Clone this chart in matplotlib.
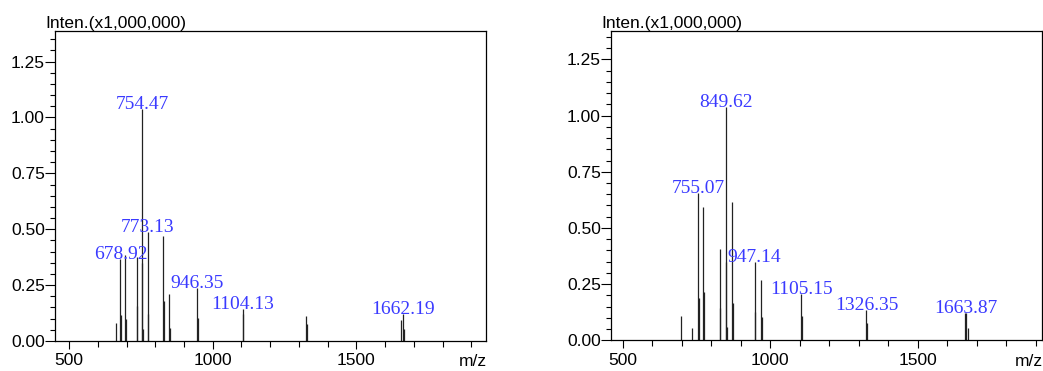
import matplotlib
matplotlib.use('Agg')
import matplotlib.pyplot as plt
from matplotlib.ticker import MultipleLocator, FormatStrFormatter

# left spectrum: peak m/z and intensity (x1,000,000)
mz_left = [662, 678.92, 680.9, 696, 697.5, 735, 737, 754.47, 755.5, 757.5,
           773.13, 775, 828, 830, 849, 851, 946.35, 948.3, 1104.13, 1106,
           1324, 1327, 1656, 1662.19, 1665]
int_left = [0.081, 0.369, 0.115, 0.384, 0.10, 0.376, 0.155, 1.036, 0.351, 0.055,
            0.488, 0.119, 0.469, 0.179, 0.208, 0.06, 0.237, 0.103, 0.145, 0.122,
            0.11, 0.075, 0.096, 0.122, 0.055]
labels_left = [754.47, 773.13, 678.92, 946.35, 1104.13, 1662.19]

# right spectrum
mz_right = [698, 736, 755.07, 757, 773, 775.5, 828, 830, 849.62, 851.6,
            853.6, 870.5, 873, 947.14, 949, 970, 972, 1105.15, 1107,
            1326.35, 1328, 1662, 1663.87, 1670]
int_right = [0.108, 0.056, 0.657, 0.19, 0.595, 0.216, 0.406, 0.145, 1.039, 0.347,
             0.061, 0.615, 0.168, 0.35, 0.128, 0.268, 0.105, 0.205, 0.11,
             0.135, 0.079, 0.12, 0.12, 0.056]
labels_right = [849.62, 755.07, 947.14, 1105.15, 1326.35, 1663.87]

plt.rcParams['font.family'] = ['Liberation Sans', 'DejaVu Sans']

fig = plt.figure(figsize=(10.43, 3.71), dpi=100)


def spectrum(rect, mz, inten, labels, xlim, ylim, title_x, mz_x):
    ax = fig.add_axes(rect)
    ax.vlines(mz, 0, inten, colors='#222222', lw=0.9)
    for lab in labels:
        h = inten[mz.index(lab)]
        ax.text(lab, h, '%.2f' % lab, ha='center', va='baseline',
                color='#3a3aff', fontsize=14, family='Liberation Serif')
    ax.set_xlim(xlim)
    ax.set_ylim(ylim)
    ax.xaxis.set_major_locator(MultipleLocator(500))
    ax.xaxis.set_minor_locator(MultipleLocator(100))
    ax.yaxis.set_major_locator(MultipleLocator(0.25))
    ax.yaxis.set_minor_locator(MultipleLocator(0.05))
    ax.yaxis.set_major_formatter(FormatStrFormatter('%.2f'))
    ax.tick_params(axis='y', which='major', length=7.2, width=0.8, pad=0, labelsize=12.5)
    ax.tick_params(axis='y', which='minor', length=3.6, width=0.8)
    ax.tick_params(axis='x', which='major', length=5.8, width=0.8, pad=3, labelsize=12.5)
    ax.tick_params(axis='x', which='minor', length=4, width=0.8)
    for s in ax.spines.values():
        s.set_linewidth(0.9)
    fig.text(title_x, 0.9237, 'Inten.(x1,000,000)', fontsize=12.5,
             ha='left', va='baseline')
    fig.text(mz_x, 0.0143, 'm/z', fontsize=12.5, ha='right', va='baseline')
    return ax


spectrum([0.0527, 0.0809, 0.4133, 0.8356], mz_left, int_left, labels_left,
         (451, 1951), (0, 1.387), 0.0438, 0.4665)
spectrum([0.5858, 0.0827, 0.4128, 0.8329], mz_right, int_right, labels_right,
         (460, 1920), (0, 1.375), 0.5769, 0.9997)

fig.savefig('out.png', dpi=100)
